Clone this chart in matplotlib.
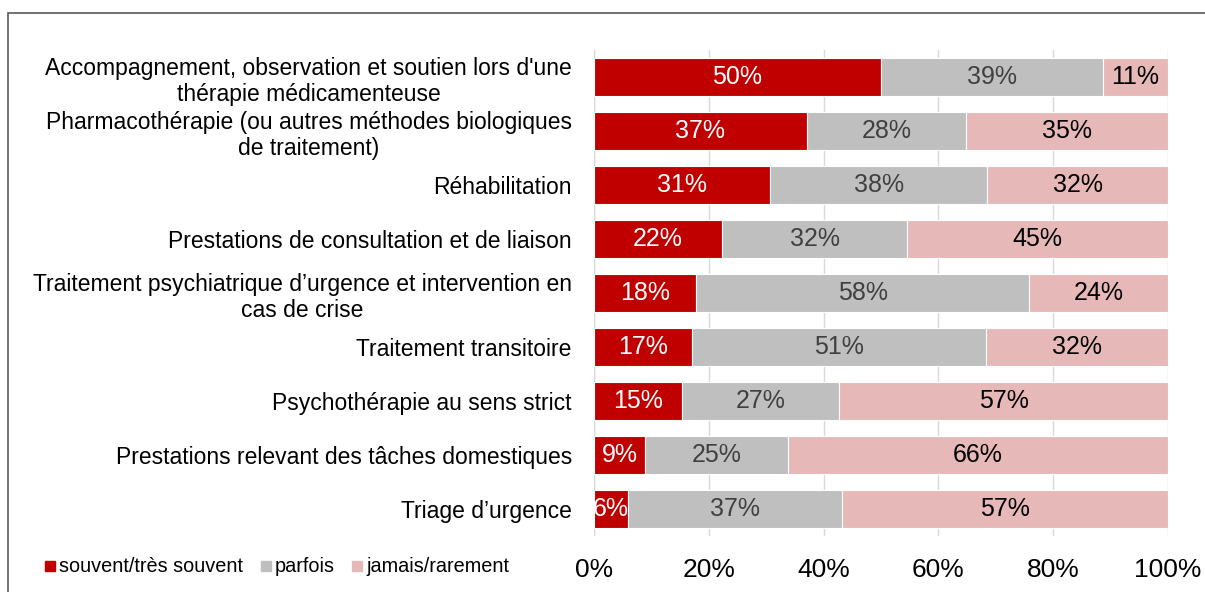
import matplotlib
matplotlib.use("Agg")
import matplotlib.pyplot as plt
from matplotlib.patches import Rectangle
from matplotlib.lines import Line2D

plt.rcParams['font.family'] = ['Liberation Sans', 'DejaVu Sans']

categories = [
    "Accompagnement, observation et soutien lors d'une\nthérapie médicamenteuse",
    "Pharmacothérapie (ou autres méthodes biologiques\nde traitement)",
    "Réhabilitation",
    "Prestations de consultation et de liaison",
    "Traitement psychiatrique d’urgence et intervention en\ncas de crise",
    "Traitement transitoire",
    "Psychothérapie au sens strict",
    "Prestations relevant des tâches domestiques",
    "Triage d’urgence",
]
souvent = [50.0, 37.1, 30.7, 22.3, 17.8, 17.1, 15.3, 8.9, 5.9]
parfois = [38.7, 27.7, 37.8, 32.3, 58.0, 51.2, 27.4, 24.9, 37.3]
jamais = [11.3, 35.2, 31.5, 45.4, 24.2, 31.7, 57.3, 66.2, 56.8]
labels_souvent = ["50%", "37%", "31%", "22%", "18%", "17%", "15%", "9%", "6%"]
labels_parfois = ["39%", "28%", "38%", "32%", "58%", "51%", "27%", "25%", "37%"]
labels_jamais = ["11%", "35%", "32%", "45%", "24%", "32%", "57%", "66%", "57%"]
series_names = ["souvent/très souvent", "parfois", "jamais/rarement"]
xticks = [0, 20, 40, 60, 80, 100]
xtick_labels = ["0%", "20%", "40%", "60%", "80%", "100%"]

colors = ["#C00000", "#BFBFBF", "#E6B9B8"]
text_colors = ["white", "#404040", "black"]

fig = plt.figure(figsize=(12.05, 5.92), dpi=100)
W, H = 1205, 592
ax = fig.add_axes([594 / W, 1 - 536 / H, (1168 - 594) / W, (536 - 50) / H])

y = list(range(len(categories)))
left = [0.0] * len(categories)
series = [souvent, parfois, jamais]
series_labels = [labels_souvent, labels_parfois, labels_jamais]
for vals, lbls, c, tc, name in zip(series, series_labels, colors, text_colors, series_names):
    bars = ax.barh(y, vals, left=left, height=0.72, color=c, edgecolor="white",
                   linewidth=0.8, label=name, zorder=3)
    for b, lab in zip(bars, lbls):
        ax.text(b.get_x() + b.get_width() / 2, b.get_y() + b.get_height() / 2, lab,
                ha="center", va="center", color=tc, fontsize=18, zorder=4)
    left = [l + v for l, v in zip(left, vals)]

ax.set_xlim(0, 100)
ax.set_ylim(len(categories) - 0.5, -0.5)
ax.set_xticks(xticks)
ax.set_xticklabels(xtick_labels, fontsize=19)
ax.set_yticks(y)
ax.set_yticklabels(categories, fontsize=16.5, ha="right", multialignment="center",
                   linespacing=1.2)
ax.tick_params(axis="y", length=0, pad=16)
ax.tick_params(axis="x", length=0, pad=16)
ax.grid(axis="x", color="#D9D9D9", linewidth=1, zorder=0)
for s in ax.spines.values():
    s.set_visible(False)
ax.axvline(0, color="#D9D9D9", linewidth=1, zorder=2)

# outer border
fig.add_artist(Rectangle((8 / W, -0.1), 1.2, 1 - 13 / H + 0.1, transform=fig.transFigure,
                         fill=False, edgecolor="#595959", linewidth=1.2))

handles = [Line2D([], [], marker="s", linestyle="none", markersize=7.5,
                  markerfacecolor=c, markeredgecolor=c) for c in colors]
fig.legend(handles, series_names, loc="center left", bbox_to_anchor=(34 / W, 1 - 567 / H),
           ncol=3, frameon=False, fontsize=14.3, handletextpad=0.15, columnspacing=0.85,
           handlelength=0.6, borderpad=0)

fig.savefig("out.png", dpi=100)
